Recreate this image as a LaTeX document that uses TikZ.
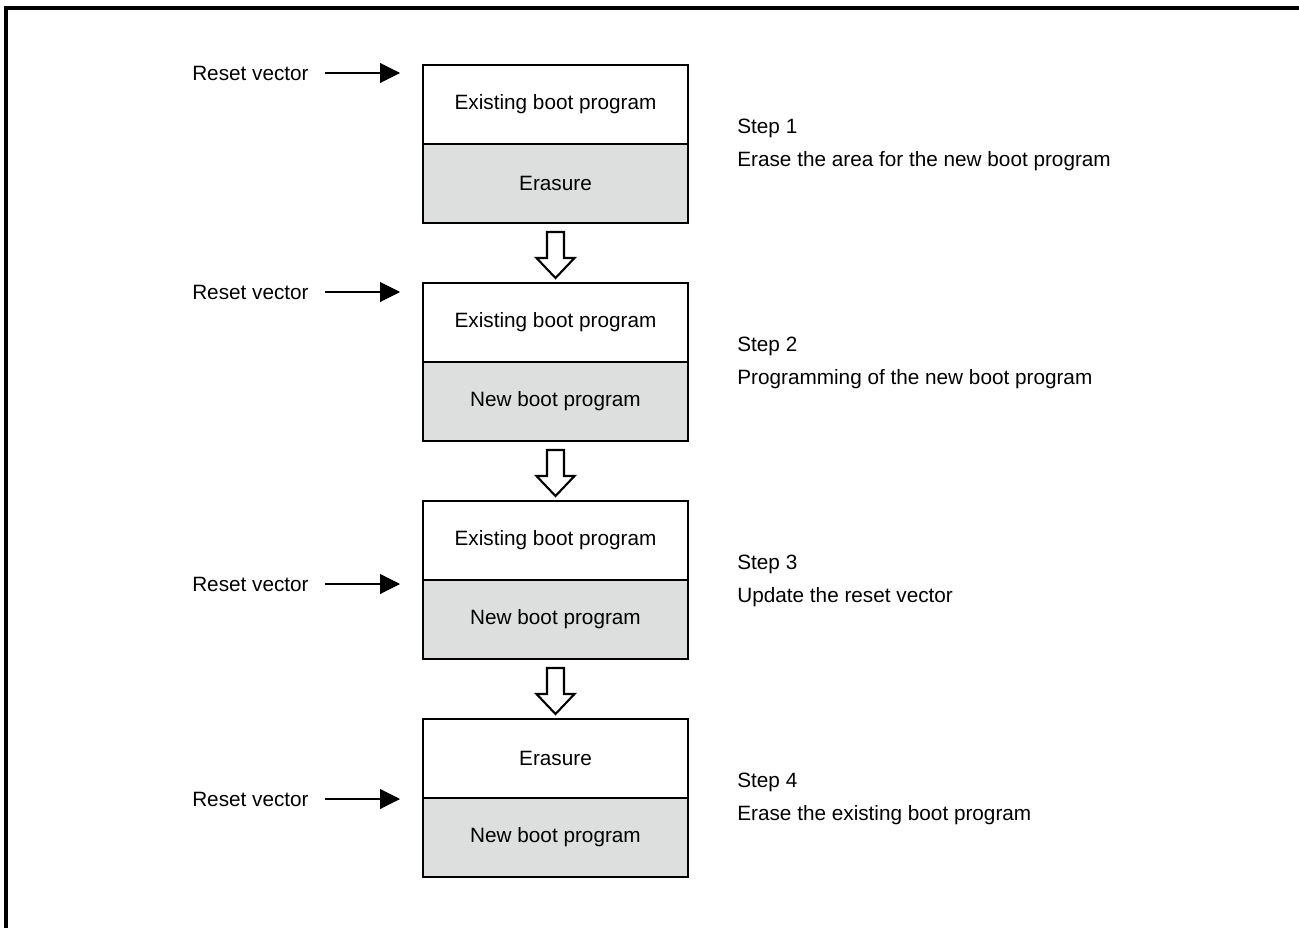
\documentclass[tikz,border=0pt]{standalone}
\usepackage{fontspec}
\setmainfont{Liberation Sans}
\usetikzlibrary{arrows.meta,positioning,calc}
\definecolor{erasegray}{RGB}{221,222,222}
\tikzset{
  memtop/.style={
    draw, line width=1.4pt, fill=white,
    minimum width=5.3cm, minimum height=1.58cm,
    inner sep=0pt, outer sep=0pt
  },
  membot/.style={memtop, fill=erasegray},
  vecflow/.style={-{Triangle[length=0.4cm,width=0.4cm]}, line width=0.6pt, shorten <=0.32cm},
  hollowflow/.style={draw, line width=1.2pt, fill=white, line join=miter},
  vectext/.style={inner sep=0pt},
  steptext/.style={
    align=left, anchor=west, inner sep=0pt,
    font=\fontsize{11.8pt}{18.7pt}\selectfont
  }
}

\begin{document}
\begin{tikzpicture}[font=\fontsize{11.8pt}{14pt}\selectfont]
\useasboundingbox (0,0) rectangle (25.98,-18.56);

%--------------------------------------------------
% Frame
%--------------------------------------------------
\draw[line width=2pt] (0.12,-18.56) |- (25.98,-0.16);

%--------------------------------------------------
% Memory maps
%--------------------------------------------------
\node[memtop] (s1top) at (11.11,-2.09) {Existing boot program};
\node[membot, below=0pt of s1top] (s1bot) {Erasure};

\node[memtop, below=1.2cm of s1bot] (s2top) {Existing boot program};
\node[membot, below=0pt of s2top] (s2bot) {New boot program};

\node[memtop, below=1.2cm of s2bot] (s3top) {Existing boot program};
\node[membot, below=0pt of s3top] (s3bot) {New boot program};

\node[memtop, below=1.2cm of s3bot] (s4top) {Erasure};
\node[membot, below=0pt of s4top] (s4bot) {New boot program};

%--------------------------------------------------
% Hollow arrows between steps
%--------------------------------------------------
\foreach \a/\b in {s1bot/s2top, s2bot/s3top, s3bot/s4top} {
  \coordinate (mid-\a) at ($(\a.south)!0.5!(\b.north)$);
  \draw[hollowflow] ($(mid-\a)+(-0.17,0.42)$) -- ++(0.34,0) -- ++(0,-0.52)
    -- ++(0.21,0) -- ++(-0.38,-0.40) -- ++(-0.38,0.40) -- ++(0.21,0) -- cycle;
}

%--------------------------------------------------
% Reset vector
%--------------------------------------------------
\coordinate (rv1) at ([xshift=-0.46cm,yshift=-0.16cm]s1top.north west);
\coordinate (rv2) at ([xshift=-0.46cm,yshift=-0.18cm]s2top.north west);
\coordinate (rv3) at ([xshift=-0.46cm,yshift=-0.08cm]s3bot.north west);
\coordinate (rv4) at ([xshift=-0.46cm,yshift=-0.02cm]s4bot.north west);

\foreach \i in {1,...,4} {
  \node[vectext, left=1.82cm of rv\i] (rvlbl\i) {Reset vector};
  \draw[vecflow] (rvlbl\i.east) -- (rv\i);
}

%--------------------------------------------------
% Step descriptions
%--------------------------------------------------
\node[steptext] (step1) at ([xshift=0.98cm,yshift=-0.02cm]s1bot.north east)
{Step 1\\Erase the area for the new boot program};
\node[steptext] (step2) at ([xshift=0.98cm,yshift=-0.02cm]s2bot.north east)
{Step 2\\Programming of the new boot program};
\node[steptext] (step3) at ([xshift=0.98cm,yshift=-0.02cm]s3bot.north east)
{Step 3\\Update the reset vector};
\node[steptext] (step4) at ([xshift=0.98cm,yshift=-0.02cm]s4bot.north east)
{Step 4\\Erase the existing boot program};

\end{tikzpicture}
\end{document}
